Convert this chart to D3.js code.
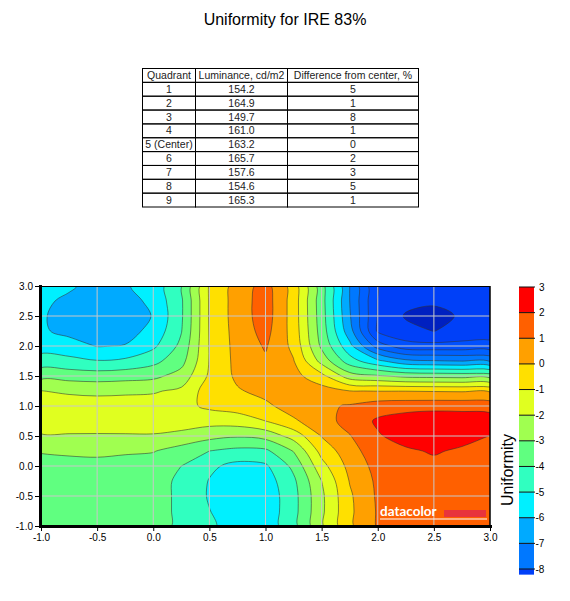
<!DOCTYPE html>
<html>
<head>
<meta charset="utf-8">
<script src="https://cdn.jsdelivr.net/npm/d3@7"></script>
<style>
body { margin: 0; background: #fff; }
svg { display: block; font-family: Arial, "Liberation Sans", sans-serif; }
</style>
</head>
<body>
<svg id="chart" width="570" height="601"></svg>
<script>
const title = "Uniformity for IRE 83%"

// table
const tableHeader = ["Quadrant", "Luminance, cd/m2", "Difference from center, %"]
const quadrants = ["1", "2", "3", "4", "5 (Center)", "6", "7", "8", "9"]
const luminance = [154.2, 164.9, 149.7, 161.0, 163.2, 165.7, 157.6, 154.6, 165.3]
const difference = [5, 1, 8, 1, 0, 2, 3, 5, 1]

// map grid
const xGrid = [-1, -0.75, -0.5, -0.25, 0, 0.25, 0.5, 0.75, 1, 1.25, 1.5, 1.75, 2, 2.25, 2.5, 2.75, 3]
const yGrid = [3, 2.75, 2.5, 2.25, 2, 1.75, 1.5, 1.25, 1, 0.75, 0.5, 0.25, 0, -0.25, -0.5, -0.75, -1]
const uniformity = [
    [-5.7, -5.85, -6.4, -6.1, -5.6, -4.1, -0.9, 0.4, 1.4, -0.45, -3.6, -7.0, -10.05, -10.5, -10.7, -10.5, -10.4],
    [-5.8, -6.2, -6.6, -6.4, -5.75, -4.15, -0.9, 0.45, 1.5, -0.45, -3.6, -7.0, -10.05, -10.7, -10.8, -10.7, -10.5],
    [-5.9, -6.35, -6.7, -6.55, -5.95, -4.15, -0.9, 0.45, 1.5, -0.45, -3.55, -6.9, -10.05, -11.1, -11.4, -10.85, -10.6],
    [-5.85, -6.3, -6.5, -6.4, -5.7, -4.05, -0.92, 0.4, 1.35, -0.4, -3.45, -6.6, -10.15, -10.7, -11.02, -10.65, -10.5],
    [-5.45, -5.55, -6.05, -5.95, -5.2, -3.75, -0.95, 0.35, 1.1, -0.25, -3.2, -5.71, -8.45, -9.63, -9.7, -9.68, -9.67],
    [-4.55, -4.75, -4.95, -4.8, -4.3, -3.35, -0.95, 0.3, 0.85, 0.05, -2.35, -4.55, -5.78, -6.75, -6.93, -7.03, -7.12],
    [-3.3, -3.4, -3.5, -3.4, -3.25, -2.6, -0.85, 0.2, 0.6, 0.35, -0.7, -2.53, -2.88, -3.25, -3.33, -3.38, -3.43],
    [-1.98, -2.15, -2.2, -2.15, -2.1, -1.8, -0.5, -0.1, 0.3, 0.5, 0.45, 0.02, -0.02, -0.02, -0.06, -0.09, -0.12],
    [-1.45, -1.5, -1.6, -1.6, -1.55, -1.3, -0.8, -0.56, -0.2, 0.45, 0.8, 1.1, 1.5, 1.6, 1.65, 1.65, 1.6],
    [-1.45, -1.45, -1.5, -1.45, -1.4, -1.4, -1.62, -1.5, -1.0, -0.15, 0.6, 1.35, 2.15, 2.5, 2.7, 2.6, 2.5],
    [-2.1, -2.1, -2.1, -2.1, -2.1, -2.35, -2.68, -2.9, -2.65, -1.6, 0.05, 0.95, 1.9, 2.4, 2.55, 2.35, 1.98],
    [-2.95, -2.85, -2.75, -2.9, -2.95, -3.4, -4.0, -4.27, -4.2, -2.95, -0.65, 0.6, 1.6, 1.85, 2.1, 1.85, 1.7],
    [-3.25, -3.3, -3.35, -3.3, -3.45, -4.0, -4.8, -5.3, -5.15, -3.75, -1.35, 0.3, 1.35, 1.6, 1.75, 1.6, 1.5],
    [-3.45, -3.5, -3.55, -3.5, -3.7, -4.15, -5.05, -5.6, -5.5, -4.2, -2.0, 0.05, 1.2, 1.45, 1.55, 1.45, 1.4],
    [-3.55, -3.6, -3.65, -3.6, -3.72, -4.15, -5.1, -5.7, -5.65, -4.35, -2.2, -0.15, 1.15, 1.4, 1.45, 1.4, 1.35],
    [-3.6, -3.62, -3.65, -3.6, -3.72, -4.15, -4.97, -5.65, -5.65, -4.35, -2.2, -0.2, 1.1, 1.35, 1.4, 1.35, 1.3],
    [-3.6, -3.62, -3.65, -3.6, -3.72, -4.15, -4.8, -5.55, -5.6, -4.35, -2.15, -0.2, 1.1, 1.35, 1.4, 1.35, 1.3]
]

const levels = [-11, -10, -9, -8, -7, -6, -5, -4, -3, -2, -1, 0, 1, 2]
const bandColors = ["#0020c0", "#0040f8", "#0050ff", "#0060ff", "#0078ff", "#00aaff", "#00f0ff",
                    "#30ffc0", "#60ff80", "#a0ff50", "#e0ff20", "#ffe000", "#ffa000", "#ff6000", "#ff0000"]
const axisTicks = [-1, -0.5, 0, 0.5, 1, 1.5, 2, 2.5, 3]
const barTicks = [3, 2, 1, 0, -1, -2, -3, -4, -5, -6, -7, -8]

const svg = d3.select("#chart")

svg.append("text")
   .attr("x", 285).attr("y", 25)
   .attr("text-anchor", "middle")
   .attr("font-size", 16)
   .text(title)

// ---- table
const colEdges = [142, 195, 287, 418]
const rowH = 13.85
const tableTop = 68
const rows = [tableHeader].concat(quadrants.map((q, i) => [q, luminance[i].toFixed(1), String(difference[i])]))
const table = svg.append("g").attr("font-size", 10.5).attr("fill", "#222")
rows.forEach((r, i) => {
	r.forEach((txt, j) => {
		const x0 = colEdges[j], x1 = colEdges[j + 1]
		const y0 = tableTop + i * rowH
		table.append("rect")
		     .attr("x", x0 + 0.5).attr("y", y0 + 0.5)
		     .attr("width", x1 - x0).attr("height", rowH)
		     .attr("fill", "none").attr("stroke", "#000").attr("stroke-width", 1)
		table.append("text")
		     .attr("x", (x0 + x1) / 2 + 0.5).attr("y", y0 + 11)
		     .attr("text-anchor", "middle")
		     .text(txt)
	})
})

// ---- contour map
const x = d3.scaleLinear().domain([-1, 3]).range([41, 490])
const y = d3.scaleLinear().domain([-1, 3]).range([526, 286])
const color = d3.scaleThreshold().domain(levels).range(bandColors)

svg.append("clipPath").attr("id", "plotClip")
   .append("rect")
   .attr("x", x(-1)).attr("y", y(3))
   .attr("width", x(3) - x(-1)).attr("height", y(-1) - y(3))

const nx = xGrid.length, ny = yGrid.length
const dx = xGrid[1] - xGrid[0], dy = yGrid[0] - yGrid[1]
const contours = d3.contours().size([nx, ny]).thresholds(levels)(uniformity.flat())

const toPx = p => [x(xGrid[0] + (p[0] - 0.5) * dx), y(yGrid[0] - (p[1] - 0.5) * dy)]
const ringLine = d3.line().curve(d3.curveCatmullRomClosed.alpha(0.5))
const contourPath = c => c.coordinates
	.map(poly => poly.map(ring => ringLine(ring.slice(0, -1).map(toPx))).join(""))
	.join("")

const plot = svg.append("g").attr("clip-path", "url(#plotClip)")
plot.append("rect")
    .attr("x", x(-1)).attr("y", y(3))
    .attr("width", x(3) - x(-1)).attr("height", y(-1) - y(3))
    .attr("fill", color(-Infinity))

plot.selectAll("path.band")
    .data(contours.filter(c => c.coordinates.length))
    .join("path")
    .attr("class", "band")
    .attr("d", contourPath)
    .attr("fill", d => color(d.value))
    .attr("fill-rule", "evenodd")
    .attr("stroke", "#333")
    .attr("stroke-opacity", 0.8)
    .attr("stroke-width", 0.7)

// grid
axisTicks.slice(1, -1).forEach(t => {
	plot.append("line")
	    .attr("x1", x(t)).attr("x2", x(t)).attr("y1", y(3)).attr("y2", y(-1))
	    .attr("stroke", "#c8c8c8").attr("stroke-width", 1)
	plot.append("line")
	    .attr("x1", x(-1)).attr("x2", x(3)).attr("y1", y(t)).attr("y2", y(t))
	    .attr("stroke", "#c8c8c8").attr("stroke-width", 1)
})

// datacolor mark
const mark = svg.append("g")
mark.append("text")
    .attr("x", 380).attr("y", 516)
    .attr("font-family", "Lato, 'DejaVu Sans', sans-serif")
    .attr("font-weight", 700)
    .attr("font-size", 13.5)
    .attr("fill", "#fff")
    .text("datacolor")
mark.append("rect")
    .attr("x", 444).attr("y", 510).attr("width", 42).attr("height", 7)
    .attr("fill", "#e8343c")
mark.append("rect")
    .attr("x", 380).attr("y", 518.5).attr("width", 107).attr("height", 1)
    .attr("fill", "#fff")

// frame
svg.append("line")
   .attr("x1", x(-1)).attr("x2", x(3)).attr("y1", y(3) + 0.5).attr("y2", y(3) + 0.5)
   .attr("stroke", "#000").attr("stroke-width", 1)
svg.append("line")
   .attr("x1", x(3)).attr("x2", x(3)).attr("y1", y(3)).attr("y2", y(-1))
   .attr("stroke", "#000").attr("stroke-width", 1.5)

const fmt = d => d.toFixed(1)
const xAxis = svg.append("g")
    .attr("transform", `translate(0,${y(-1)})`)
    .call(d3.axisBottom(x).tickValues(axisTicks).tickFormat(fmt).tickSize(5).tickPadding(3).tickSizeOuter(0))
const yAxis = svg.append("g")
    .attr("transform", `translate(${x(-1) - 1},0)`)
    .call(d3.axisLeft(y).tickValues(axisTicks).tickFormat(fmt).tickSize(5).tickPadding(2).tickSizeOuter(0))
for (let ax of [xAxis, yAxis]) {
	ax.select(".domain").attr("stroke-width", 3).attr("stroke-linecap", "square")
	ax.selectAll("text").attr("font-size", 10).attr("font-family", "Arial, 'Liberation Sans', sans-serif").attr("fill", "#000")
}

// ---- colour bar
const barY = d3.scaleLinear().domain([3, -8]).range([287, 569])
const bar = svg.append("g")
barTicks.slice(1).forEach((t, i) => {
	bar.append("rect")
	   .attr("x", 519).attr("y", barY(barTicks[i]))
	   .attr("width", 15).attr("height", barY(t) - barY(barTicks[i]))
	   .attr("fill", color(t))
})
bar.append("rect")
   .attr("x", 519).attr("y", barY(-8))
   .attr("width", 15).attr("height", barY(-8.22) - barY(-8))
   .attr("fill", color(-10.5))
barTicks.forEach(t => {
	bar.append("line")
	   .attr("x1", 519).attr("x2", 535).attr("y1", barY(t)).attr("y2", barY(t))
	   .attr("stroke", "#111").attr("stroke-width", 1)
	bar.append("text")
	   .attr("x", t >= 0 ? 539 : 535.5).attr("y", barY(t)).attr("dy", "0.35em")
	   .attr("font-size", 10)
	   .text(String(t))
})
svg.append("text")
   .attr("transform", "translate(513,470) rotate(-90)")
   .attr("text-anchor", "middle")
   .attr("font-size", 16)
   .text("Uniformity")
</script>
</body>
</html>
